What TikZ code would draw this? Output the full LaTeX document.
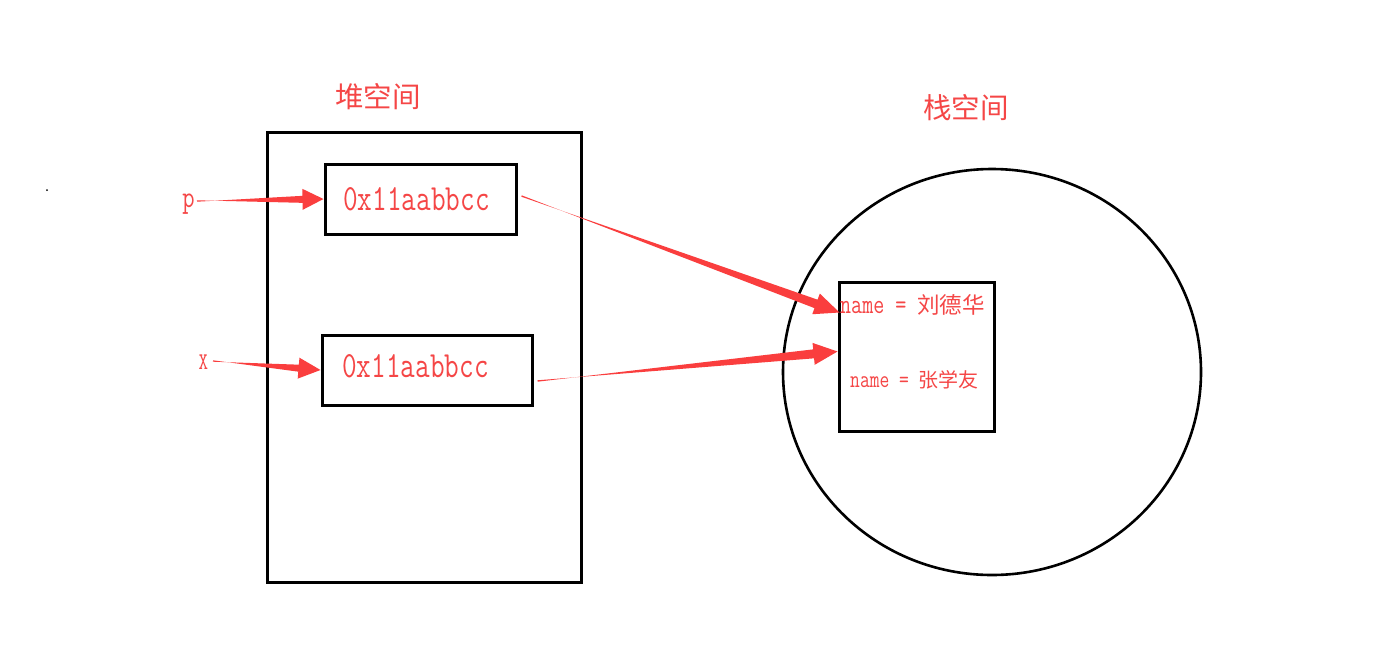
\documentclass[tikz,border=0pt]{standalone}
\usepackage{fontspec}
\usetikzlibrary{calc}
\newfontfamily\monof{Latin Modern Mono}[FakeStretch=0.77]
\newfontfamily\cjk{Noto Sans CJK SC}
\definecolor{arrowred}{RGB}{250,62,62}
\definecolor{textred}{RGB}{245,70,70}
\newcommand\taparrow[5]{%
  \path coordinate (hb) at ($(#2)!#3!(#1)$);
  \fill[arrowred] ($(#1)!0.7pt!90:(#2)$) -- ($(hb)!#5!-90:(#2)$) -- ($(hb)!#4!-90:(#2)$) -- (#2)
     -- ($(hb)!#4!90:(#2)$) -- ($(hb)!#5!90:(#2)$) -- ($(#1)!0.7pt!-90:(#2)$) -- cycle;
}
\tikzset{
  blackbox/.style={draw=black, line width=3pt, inner sep=0pt},
  redtext/.style={text=textred, inner sep=0pt},
}
\begin{document}
\begin{tikzpicture}[x=1pt,y=-1pt]
\useasboundingbox[fill=white] (0,0) rectangle (1395,659);
% stray dot
\fill[black] (47,190) circle (1pt);
% heading labels
\node[redtext, font=\cjk\fontsize{28.5}{30}\selectfont] (heaplbl) at (378,97) {堆空间};
\node[redtext, font=\cjk\fontsize{28.5}{30}\selectfont] (stacklbl) at (966,108) {栈空间};
% heap
\node[blackbox, minimum width=314pt, minimum height=450pt] (heap) at (424,357) {};
\node[blackbox, minimum width=191pt, minimum height=70pt] (box1) at (420.5,199) {};
\node[blackbox, minimum width=210pt, minimum height=70pt] (box2) at (427,370) {};
\node[redtext, anchor=base, font=\monof\fontsize{36.9}{38}\selectfont] (t1) at (416.5,210) {0x11aabbcc};
\node[redtext, anchor=base, font=\monof\fontsize{36.9}{38}\selectfont] (t2) at (415.5,377) {0x11aabbcc};
% variable labels
\node[redtext, anchor=base, font=\monof\fontsize{31}{33}\selectfont] (p) at (188.5,207) {p};
\node[redtext, anchor=base, font=\monof\fontsize{24}{26}\selectfont] (x) at (203.5,369) {X};
% stack
\draw[black, line width=2.6pt] (992,372) ellipse [x radius=209, y radius=203];
\node[blackbox, minimum width=155pt, minimum height=149pt] (obj) at (916.5,356.5) {};
\node[redtext, anchor=base west] (n1) at (840,313) {{\monof\fontsize{27.8}{30}\selectfont name = }{\cjk\fontsize{22.5}{24}\selectfont 刘德华}};
\node[redtext, anchor=base west] (n2) at (850,387) {{\monof\fontsize{24.7}{26}\selectfont name = }{\cjk\fontsize{20}{22}\selectfont 张学友}};
% arrow end points
\coordinate (ptail) at (197,201);
\coordinate (ptip) at (box1.west);
\coordinate (xtail) at (213,361);
\coordinate (xtip) at (box2.west);
\coordinate (a1tail) at ($(box1.east)+(4,-3)$);
\coordinate (a1tip) at ($(obj.west)+(2,-44)$);
\coordinate (a2tail) at ($(box2.east)+(4,11)$);
\coordinate (a2tip) at ($(obj.west)+(0,-5)$);
\taparrow{ptail}{ptip}{21pt}{10.5pt}{3.5pt}
\taparrow{xtail}{xtip}{22pt}{10.5pt}{3.5pt}
\taparrow{a1tail}{a1tip}{25pt}{11pt}{4.5pt}
\taparrow{a2tail}{a2tip}{24pt}{11pt}{4.5pt}
\end{tikzpicture}
\end{document}
